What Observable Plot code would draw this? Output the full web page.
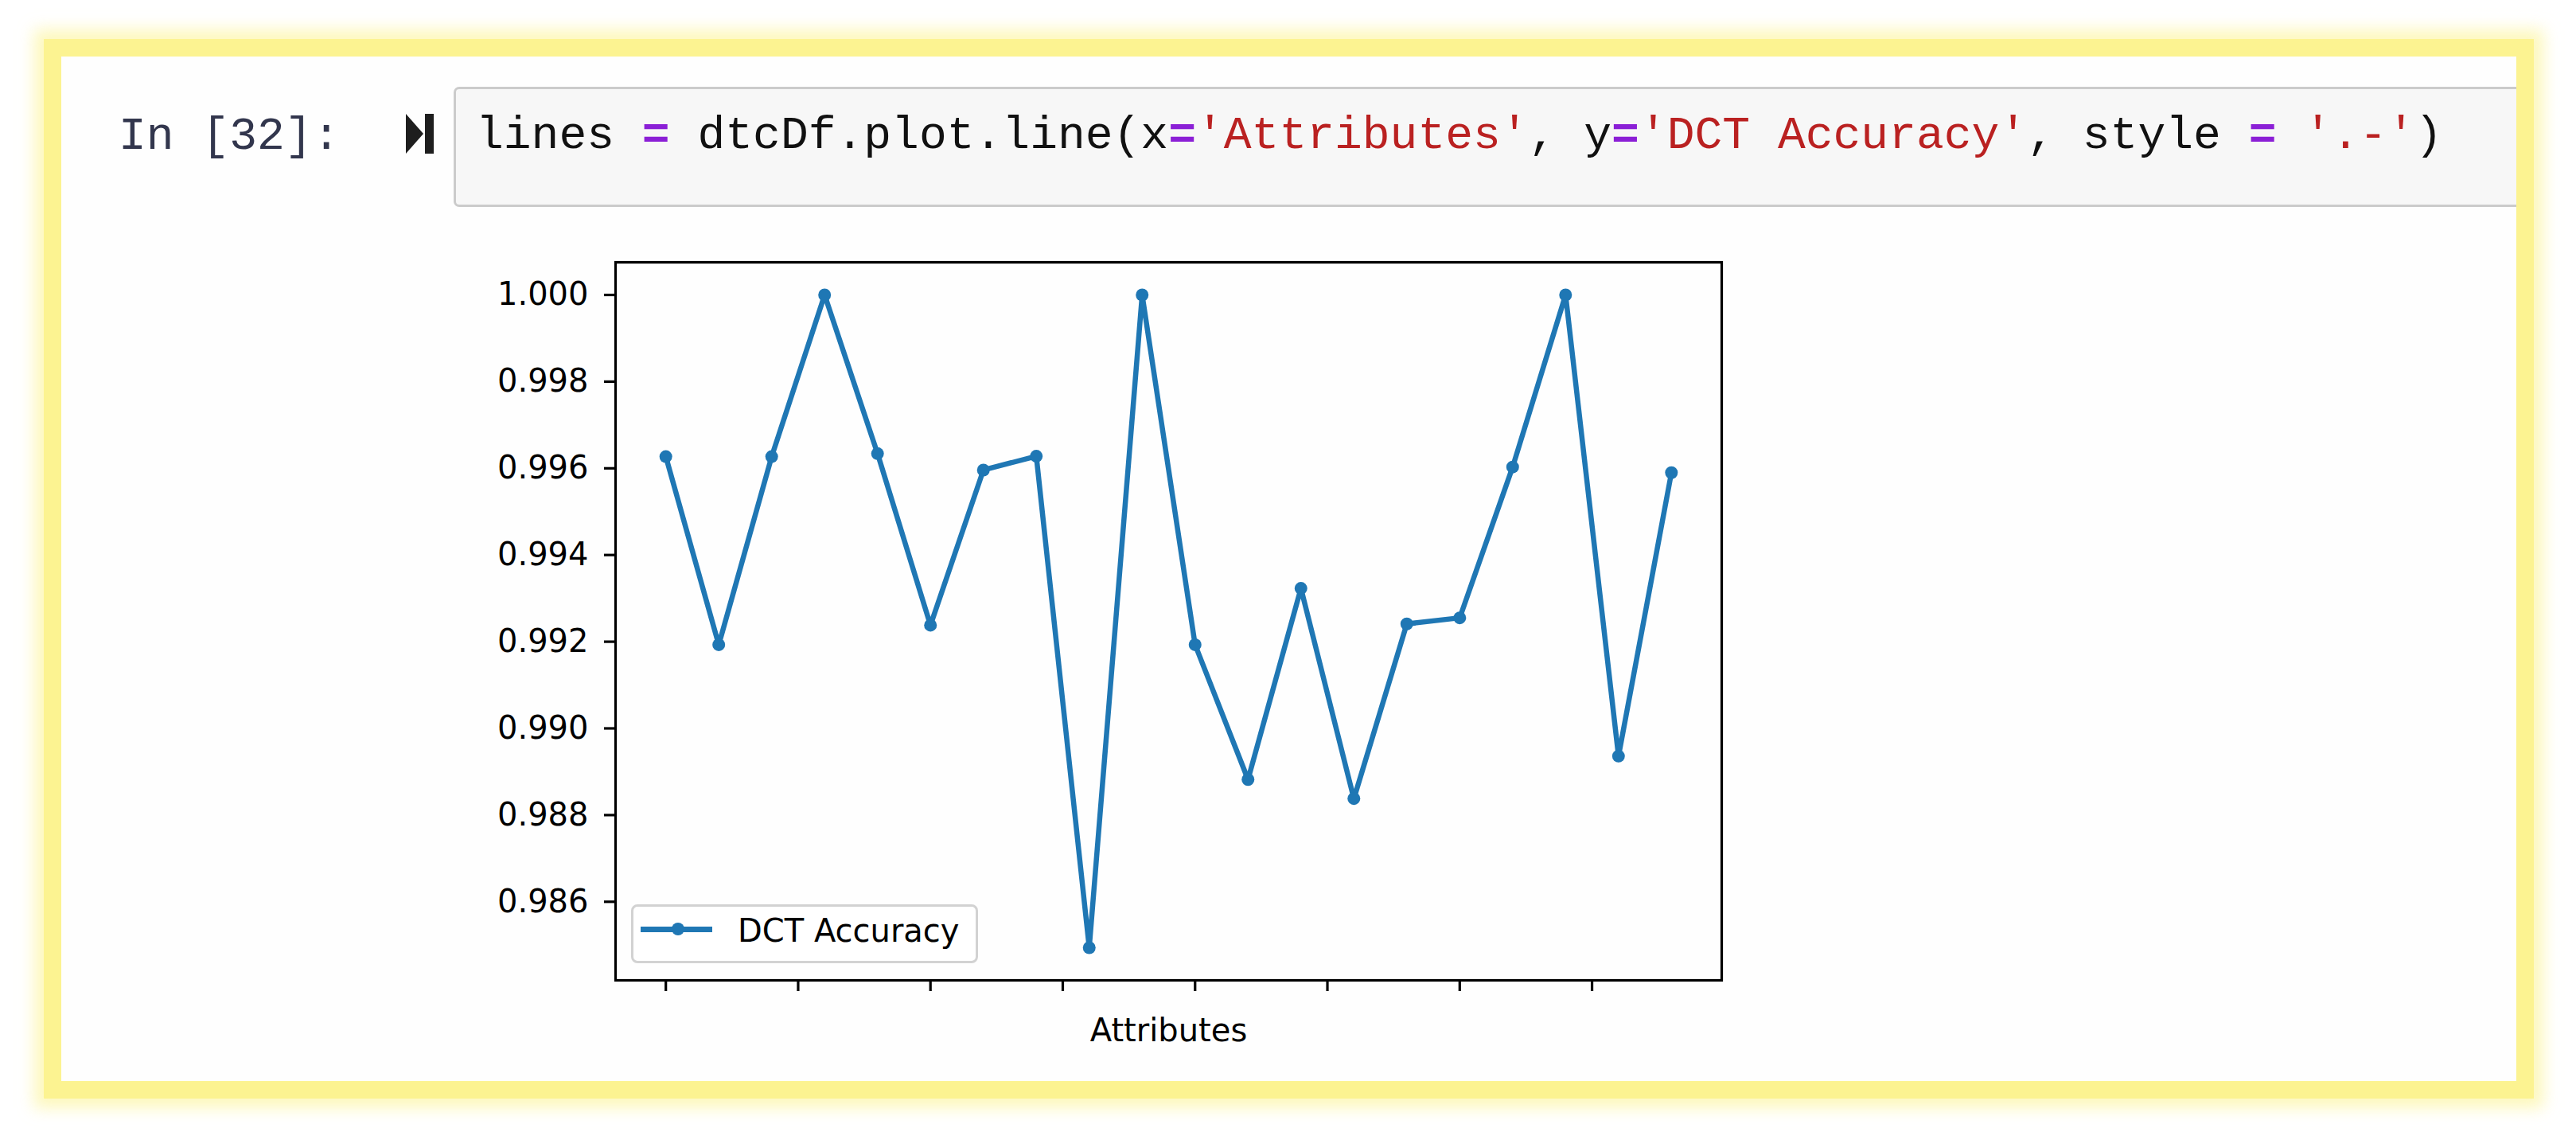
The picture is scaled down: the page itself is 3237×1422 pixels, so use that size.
<!DOCTYPE html>
<html>
<head>
<meta charset="utf-8">
<script src="https://cdn.jsdelivr.net/npm/d3@7"></script>
<script src="https://cdn.jsdelivr.net/npm/@observablehq/plot@0.6"></script>
<style>
  html, body { margin: 0; padding: 0; background: #ffffff; }
  body { position: relative; width: 3237px; height: 1422px; overflow: hidden; font-family: "DejaVu Sans", sans-serif; }
  #panel {
    position: absolute; left: 77px; top: 71px; width: 3085px; height: 1287px;
    background: #fefefe; overflow: hidden;
    box-shadow: 0 0 0 22px #fcf391, 0 0 18px 34px rgba(252, 243, 145, 0.6);
  }
  #codebox {
    position: absolute; left: 493px; top: 38px; width: 2720px; height: 145px;
    background: #f7f7f7; border: 3px solid #cbcbcb; border-radius: 7px;
  }
  .mono { font-family: "Courier New", "Nimbus Mono PS", "Liberation Mono", monospace; font-size: 58px; line-height: 58px; white-space: pre; position: absolute; }
  #prompt { left: 149px; top: 143px; color: #32364d; }
  #code { left: 598px; top: 142px; color: #111; }
  .op { color: #8b1fd6; font-weight: bold; }
  .str { color: #ba2121; }
  #run { position: absolute; left: 510px; top: 143px; width: 36px; height: 50px; }
  #run .tri { position: absolute; left: 0; top: 0; width: 0; height: 0;
    border-top: 25px solid transparent; border-bottom: 25px solid transparent; border-left: 22px solid #1e1e1e; }
  #run .bar { position: absolute; left: 24px; top: 0; width: 11px; height: 50px; background: #1e1e1e; }
  #chart { position: absolute; left: 560px; top: 300px; }
  #legend {
    position: absolute; left: 793px; top: 1136px; width: 430px; height: 68px;
    border: 3px solid #d2d2d2; border-radius: 8px; background: rgba(255,255,255,0.85);
  }
  #legend .ln { position: absolute; left: 9px; top: 25px; width: 90px; height: 7px; background: #1f77b4; }
  #legend .dt { position: absolute; left: 48px; top: 20px; width: 16px; height: 16px; border-radius: 50%; background: #1f77b4; }
  #legend .tx { position: absolute; left: 131px; top: 10px; font-size: 40px; line-height: 40px; color: #000; white-space: pre; }
</style>
</head>
<body>
<div id="panel"><div id="codebox"></div></div>
<div class="mono" id="prompt">In [32]:</div>
<div id="run"><div class="tri"></div><div class="bar"></div></div>
<div class="mono" id="code">lines <span class="op">=</span> dtcDf.plot.line(x<span class="op">=</span><span class="str">'Attributes'</span>, y<span class="op">=</span><span class="str">'DCT Accuracy'</span>, style <span class="op">=</span> <span class="str">'.-'</span>)</div>
<div id="chart"></div>
<div id="legend"><div class="ln"></div><div class="dt"></div><div class="tx">DCT Accuracy</div></div>
<script>
// Data
const attributeIndex = [0, 1, 2, 3, 4, 5, 6, 7, 8, 9, 10, 11, 12, 13, 14, 15, 16, 17, 18, 19];
const dctAccuracy = [0.99627, 0.99193, 0.99627, 1.0, 0.99634, 0.99238, 0.99596, 0.99628, 0.98494, 1.0,
                     0.99193, 0.98882, 0.99323, 0.98838, 0.99241, 0.99255, 0.99603, 1.0, 0.98936, 0.9959];
const yTicks = [0.986, 0.988, 0.990, 0.992, 0.994, 0.996, 0.998, 1.000];
const xTicks = [0, 2.5, 5, 7.5, 10, 12.5, 15, 17.5];
const xLabel = "Attributes";
const seriesName = "DCT Accuracy";

const data = attributeIndex.map((a, i) => ({attr: a, acc: dctAccuracy[i]}));

// matplotlib-style 5% margins
const [xmin, xmax] = d3.extent(attributeIndex);
const [ymin, ymax] = d3.extent(dctAccuracy);
const xm = (xmax - xmin) * 0.05, ym = (ymax - ymin) * 0.05;

const C0 = "#1f77b4";

const chart = Plot.plot({
  width: 1650,
  height: 1040,
  marginLeft: 213,
  marginTop: 29,
  marginRight: 47,
  marginBottom: 109,
  style: {fontFamily: "DejaVu Sans, sans-serif", fontSize: "40px", color: "#000", background: "transparent", overflow: "visible"},
  x: {domain: [xmin - xm, xmax + xm]},
  y: {domain: [ymin - ym, ymax + ym]},
  marks: [
    Plot.axisY({ticks: yTicks, tickFormat: d3.format(".3f"), tickSize: 14, tickPadding: 20, strokeWidth: 3.2, stroke: "#000", fontSize: 40, label: null}),
    Plot.axisX({ticks: xTicks, tickFormat: () => "", tickSize: 14, tickPadding: 0, strokeWidth: 3.2, stroke: "#000", label: null}),
    Plot.line(data, {x: "attr", y: "acc", stroke: C0, strokeWidth: 6.5, strokeLinejoin: "round"}),
    Plot.dot(data, {x: "attr", y: "acc", r: 8, fill: C0, stroke: "none"}),
    Plot.frame({stroke: "#000", strokeWidth: 3.2}),
    Plot.text([xLabel], {frameAnchor: "bottom", dy: 64, fontSize: 40, fill: "#000", lineAnchor: "middle"})
  ]
});
document.getElementById("chart").appendChild(chart);
document.querySelector("#legend .tx").textContent = seriesName;
</script>
</body>
</html>
